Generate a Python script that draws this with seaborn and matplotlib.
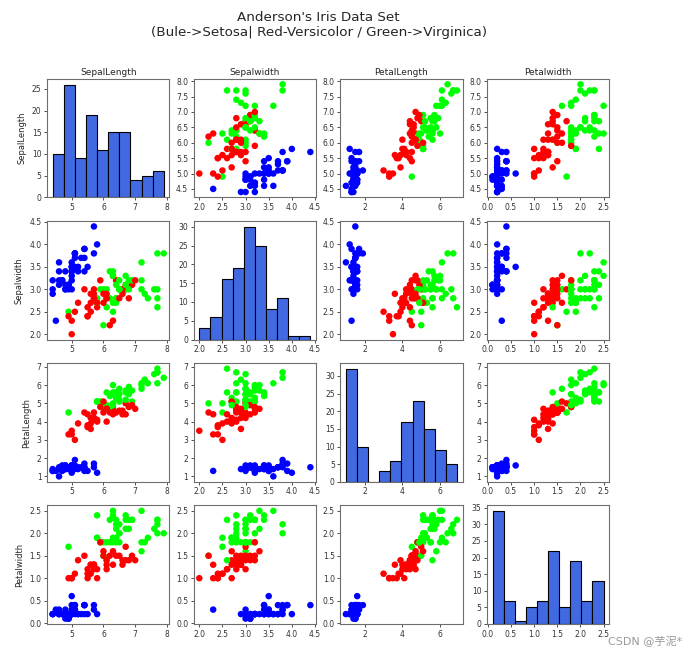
import numpy as np
import pandas as pd
import matplotlib
matplotlib.use("Agg")
import matplotlib.pyplot as plt
import matplotlib.ticker as mticker
import seaborn as sns

# iris training set (120 samples)
sepal_length = [6.4,5.0,4.9,4.9,5.7,4.4,5.4,6.9,6.7,5.1,5.2,6.9,5.8,5.4,7.7,6.3,6.8,7.6,6.4,5.7,
                6.7,6.4,5.4,6.1,7.2,5.2,5.8,5.9,5.4,6.7,6.3,5.1,6.4,6.8,6.2,6.9,6.5,5.8,5.1,4.8,
                7.9,5.8,6.7,5.1,4.7,6.0,4.8,7.7,4.6,7.2,5.0,6.6,6.1,5.0,7.0,6.0,7.4,5.8,6.2,5.0,
                5.6,6.7,6.3,6.4,6.2,7.3,4.4,7.2,6.5,5.0,4.7,6.6,5.5,7.7,6.1,4.9,5.5,5.7,6.0,6.4,
                5.4,6.1,6.5,5.6,6.3,4.9,6.8,5.7,6.0,5.0,6.5,6.1,5.1,4.6,6.5,4.6,4.6,7.7,5.9,5.1,
                4.9,4.9,4.5,5.8,5.0,5.2,5.3,5.0,5.6,4.8,6.3,5.7,5.0,6.3,5.0,5.5,5.7,4.4,4.8,5.5]
sepal_width = [2.8,2.3,2.5,3.1,3.8,3.2,3.4,3.1,3.1,3.7,2.7,3.1,4.0,3.9,3.8,3.3,3.2,3.0,3.2,4.4,
               3.3,2.8,3.9,2.6,3.0,3.5,2.6,3.0,3.0,3.0,2.3,2.5,3.2,3.0,2.8,3.2,3.2,2.8,3.8,3.0,
               3.8,2.7,3.0,3.8,3.2,2.2,3.4,2.6,3.6,3.2,3.3,3.0,2.8,3.2,3.2,3.0,2.8,2.7,3.4,2.0,
               2.5,3.1,2.5,3.1,2.2,2.9,3.0,3.6,3.0,3.4,3.2,2.9,3.5,3.0,3.0,3.1,2.4,2.9,2.9,2.7,
               3.7,2.9,2.8,2.7,3.4,3.1,2.8,2.8,2.7,3.5,3.0,2.8,3.5,3.1,3.0,3.4,3.2,2.8,3.2,3.8,
               3.0,2.4,2.3,2.7,3.4,3.4,3.7,3.6,2.9,3.1,2.7,2.8,3.0,3.3,3.5,2.6,3.0,2.9,3.0,2.4]
petal_length = [5.6,3.3,4.5,1.5,1.7,1.3,1.5,5.1,4.4,1.5,3.9,4.9,1.2,1.7,6.7,4.7,5.9,6.6,5.3,1.5,
                5.7,5.6,1.3,5.6,5.8,1.5,4.0,5.1,4.5,5.0,4.4,3.0,4.5,5.5,4.8,5.7,5.1,5.1,1.5,1.4,
                6.4,5.1,5.2,1.9,1.6,5.0,1.6,6.9,1.0,6.0,1.4,4.4,4.0,1.2,4.7,4.8,6.1,5.1,5.4,3.5,
                3.9,5.6,5.0,5.5,4.5,6.3,1.3,6.1,5.5,1.5,1.3,4.6,1.3,6.1,4.9,1.5,3.8,4.2,4.5,5.3,
                1.5,4.7,4.6,4.2,5.6,1.5,4.8,4.5,5.1,1.3,5.2,4.7,1.4,1.5,5.8,1.4,1.4,6.7,4.8,1.6,
                1.4,3.3,1.3,4.1,1.6,1.4,1.5,1.4,3.6,1.6,4.9,4.1,1.6,6.0,1.6,4.4,4.2,1.4,1.4,3.7]
petal_width = [2.2,1.0,1.7,0.1,0.3,0.2,0.4,2.3,1.4,0.4,1.4,1.5,0.2,0.4,2.2,1.6,2.3,2.1,2.3,0.4,
               2.1,2.1,0.4,1.4,1.6,0.2,1.2,1.8,1.5,1.7,1.3,1.1,1.5,2.1,1.8,2.3,2.0,2.4,0.3,0.3,
               2.0,1.9,2.3,0.4,0.2,1.5,0.2,2.3,0.2,1.8,0.2,1.4,1.3,0.2,1.4,1.8,1.9,1.9,2.3,1.0,
               1.1,2.4,1.9,1.8,1.5,1.8,0.2,2.5,1.8,0.2,0.2,1.3,0.2,2.3,1.8,0.1,1.1,1.3,1.5,1.9,
               0.2,1.4,1.5,1.3,2.4,0.1,1.4,1.3,1.6,0.3,2.0,1.2,0.3,0.2,2.2,0.3,0.2,2.0,1.8,0.2,
               0.2,1.0,0.3,1.0,0.4,0.2,0.2,0.2,1.3,0.2,1.8,1.3,0.2,2.5,0.6,1.2,1.2,0.2,0.1,1.0]
species = [2,1,2,0,0,0,0,2,1,0,1,1,0,0,2,1,2,2,2,0,
           2,2,0,2,2,0,1,2,1,1,1,1,1,2,2,2,2,2,0,0,
           2,2,2,0,0,2,0,2,0,2,0,1,1,0,1,2,2,2,2,1,
           1,2,2,2,1,2,0,2,2,0,0,1,0,2,2,0,1,1,1,2,
           0,1,1,1,2,0,1,1,1,0,2,1,0,0,2,0,0,2,1,0,
           0,1,0,1,0,0,0,0,1,0,2,1,0,2,0,1,1,0,0,1]

names = ["SepalLength", "Sepalwidth", "PetalLength", "Petalwidth"]
colors = ["blue", "red", "lime"]
title = "Anderson's Iris Data Set\n(Bule->Setosa| Red-Versicolor / Green->Virginica)"
watermark = "CSDN @芋泥*"

df = pd.DataFrame({names[0]: sepal_length, names[1]: sepal_width,
                   names[2]: petal_length, names[3]: petal_width, "species": species})

sns.set_style("white")
plt.rcParams["font.family"] = ["DejaVu Sans", "Noto Sans CJK SC"]
plt.rcParams["axes.edgecolor"] = "#6e6e6e"
plt.rcParams["axes.linewidth"] = 0.8

tick_steps = {names[0]: 1.0, names[1]: 0.5, names[2]: 2.0, names[3]: 0.5}
y_steps = {names[0]: 0.5, names[1]: 0.5, names[2]: 1.0, names[3]: 0.5}

fig, axes = plt.subplots(4, 4, figsize=(6.93, 6.52), dpi=100)
fig.subplots_adjust(left=0.068, right=0.879, top=0.879, bottom=0.043,
                    wspace=0.2, hspace=0.2)

for i, rn in enumerate(names):
    for j, cn in enumerate(names):
        ax = axes[i, j]
        if i == j:
            sns.histplot(data=df, x=cn, bins=10, color="royalblue", edgecolor="black",
                         alpha=1, linewidth=0.8, ax=ax)
            ax.yaxis.set_major_locator(mticker.MultipleLocator(5))
        else:
            sns.scatterplot(data=df, x=cn, y=rn, hue="species", palette=colors,
                            s=22, linewidth=0, legend=False, ax=ax)
            ax.yaxis.set_major_locator(mticker.MultipleLocator(y_steps[rn]))
        ax.xaxis.set_major_locator(mticker.MultipleLocator(tick_steps[cn]))
        ax.set_xlabel("")
        ax.set_ylabel(rn if j == 0 else "", fontsize=6)
        ax.tick_params(labelsize=5.5, length=2.5, width=0.6, colors="#333333",
                       bottom=True, left=True, pad=1.5)
        if i == 0:
            ax.set_title(cn, fontsize=6.5, pad=3)

fig.suptitle(title, x=0.46, y=0.983, fontsize=9.7)
fig.text(0.985, 0.008, watermark, ha="right", va="bottom", fontsize=8, color="#999999",
         family=["DejaVu Sans", "Noto Sans CJK SC"])

fig.savefig("out.png", dpi=100)
